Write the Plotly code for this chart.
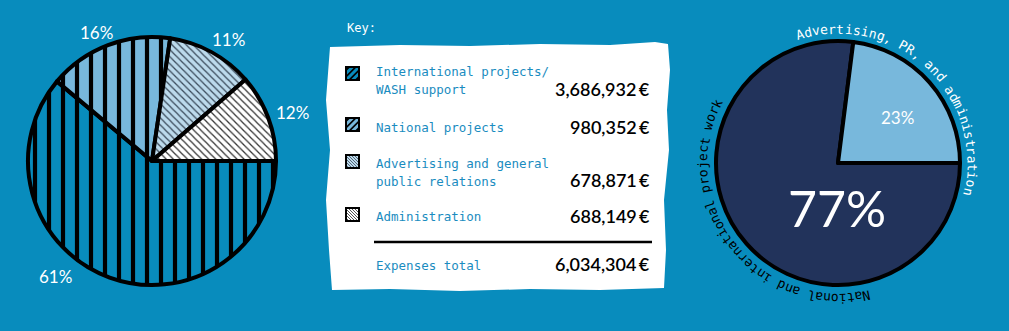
import math
import plotly.graph_objects as go

W, H = 1009, 331

# ---------------- data ----------------
categories = ["International projects/WASH support", "National projects",
              "Advertising and general public relations", "Administration"]
amounts = [3686932, 980352, 678871, 688149]
pct_labels = ["61%", "16%", "11%", "12%"]
key_lines = [["International projects/", "WASH support"],
             ["National projects"],
             ["Advertising and general", "public relations"],
             ["Administration"]]
total_label = "Expenses total"
total_amount = 6034304

summary_labels = ["National and international project work",
                  "Advertising, PR, and administration"]
summary_values = [77, 23]
summary_pct = ["77%", "23%"]

# ---------------- style ----------------
BG = "#088cbd"
LIGHT = "#78b8dc"
PALE = "#bcdaec"
NAVY = "#22335b"
KEYBLUE = "#1a8cc0"
MONO = "DejaVu Sans Mono"
SANS = "Lato"


def px(x):
    return x / W


def py(y):
    return 1 - y / H


def dom(cx, cy, r):
    return dict(x=[px(cx - r), px(cx + r)], y=[py(cy + r), py(cy - r)])


def note(x, y, text, size, color, family, xanchor="center", angle=0, weight=400):
    return dict(x=px(x), y=py(y), xref="paper", yref="paper", text=text,
                showarrow=False, xanchor=xanchor, yanchor="middle",
                textangle=angle,
                font=dict(family=family, size=size, color=color, weight=weight))


fig = go.Figure()

# Left pie (hatched)
fig.add_trace(go.Pie(
    labels=categories, values=amounts, sort=False, direction="clockwise",
    rotation=90, textinfo="none", hoverinfo="label+value",
    domain=dom(152, 161, 124), showlegend=False,
    marker=dict(
        colors=[BG, LIGHT, PALE, "white"],
        line=dict(color="black", width=4),
        pattern=dict(shape=["|", "|", "\\", "\\"],
                     fgcolor=["black", "black", "#3a4a5a", "#333333"],
                     bgcolor=[BG, LIGHT, PALE, "white"],
                     fgopacity=1,
                     size=[14, 14, 5, 5],
                     solidity=[0.3, 0.3, 0.25, 0.25],
                     fillmode="replace"),
    ),
))

# Right pie
fig.add_trace(go.Pie(
    labels=summary_labels, values=summary_values, sort=False,
    direction="clockwise", rotation=90, textinfo="none",
    hoverinfo="label+percent", domain=dom(838, 163, 122), showlegend=False,
    marker=dict(colors=[NAVY, LIGHT], line=dict(color="black", width=4)),
))

shapes = []
annotations = []

# Left pie percentage labels
left_label_pos = [(55, 276), (96, 33), (228, 39), (292, 113)]
for t, (x, y) in zip(pct_labels, left_label_pos):
    annotations.append(note(x, y, t, 17, "white", SANS))

# Right pie labels
annotations.append(note(837, 208, summary_pct[0], 50, "white", SANS))
annotations.append(note(897, 117, summary_pct[1], 17, "white", SANS))


# Curved text around the right pie
def arc_text(text, cx, cy, r, start_deg, step_deg, color, size):
    for i, ch in enumerate(text):
        if ch == " ":
            continue
        th = start_deg - i * step_deg
        t = math.radians(th)
        x = cx + r * math.cos(t)
        y = cy - r * math.sin(t)
        annotations.append(note(x, y, ch, size, color, MONO, angle=90 - th))


arc_text(summary_labels[1], 838, 163, 134, 106.5, 3.5, "white", 13)
arc_text(summary_labels[0], 838, 163, 135, 282.2, 3.38, "black", 13)

# Key box (hand-drawn look)
box_pts = [(330, 47), (400, 45), (470, 46), (540, 44), (610, 45), (655, 42),
           (668, 44), (670, 70), (667, 110), (669, 150), (664, 200), (666, 250),
           (664, 288), (600, 290), (530, 289), (460, 291), (390, 289), (332, 290),
           (329, 250), (326, 200), (330, 150), (326, 100), (329, 60)]
path = "M " + " L ".join(f"{px(x):.5f},{py(y):.5f}" for x, y in box_pts) + " Z"
shapes.append(dict(type="path", path=path, xref="paper", yref="paper",
                   fillcolor="white", line=dict(width=0), layer="below"))

annotations.append(note(345, 28, "Key:", 12, "white", MONO, xanchor="left"))

# Swatches
sw_y = [67, 118, 155, 208]
sw_style = [("black", BG, "/"), ("black", LIGHT, "/"),
            (PALE, "#556677", "\\"), ("white", "#555555", "\\")]
S = 13
x0 = 346
for y0, (bg, fg, sh) in zip(sw_y, sw_style):
    shapes.append(dict(type="rect", xref="paper", yref="paper",
                       x0=px(x0), x1=px(x0 + S), y0=py(y0 + S), y1=py(y0),
                       fillcolor=bg, line=dict(width=0)))
    if sh == "/":
        cs, lw = [6.5, 13, 19.5], 3
        for c in cs:
            u0, u1 = max(0, c - S), min(S, c)
            shapes.append(dict(type="line", xref="paper", yref="paper",
                               x0=px(x0 + u0), y0=py(y0 + c - u0),
                               x1=px(x0 + u1), y1=py(y0 + c - u1),
                               line=dict(color=fg, width=lw)))
    else:
        cs, lw = [-10, -7, -4, -1, 2, 5, 8, 11], 1
        for c in cs:
            u0, u1 = max(0, c), min(S, S + c)
            shapes.append(dict(type="line", xref="paper", yref="paper",
                               x0=px(x0 + u0), y0=py(y0 + u0 - c),
                               x1=px(x0 + u1), y1=py(y0 + u1 - c),
                               line=dict(color=fg, width=lw)))
    shapes.append(dict(type="rect", xref="paper", yref="paper",
                       x0=px(x0), x1=px(x0 + S), y0=py(y0 + S), y1=py(y0),
                       line=dict(color="black", width=2)))

# Key labels and amounts
label_y0 = [72, 127, 163, 216]
amount_y = [89, 127, 180, 216]
for lines, val, ly, ay in zip(key_lines, amounts, label_y0, amount_y):
    for j, ln in enumerate(lines):
        annotations.append(note(374, ly + 18 * j, ln, 12.5, KEYBLUE, MONO, xanchor="left"))
    annotations.append(note(652, ay, f"{val:,}\u2009€", 18, "black", SANS,
                            xanchor="right", weight=600))

shapes.append(dict(type="line", xref="paper", yref="paper",
                   x0=px(374), x1=px(652), y0=py(242), y1=py(242),
                   line=dict(color="black", width=2.5)))
annotations.append(note(374, 265, total_label, 12.5, KEYBLUE, MONO, xanchor="left"))
annotations.append(note(652, 264, f"{total_amount:,}\u2009€", 18, "black", SANS,
                        xanchor="right", weight=600))

fig.update_layout(
    width=W, height=H, margin=dict(l=0, r=0, t=0, b=0),
    paper_bgcolor=BG, plot_bgcolor=BG,
    shapes=shapes, annotations=annotations, showlegend=False,
)

fig.write_html("out.html")
